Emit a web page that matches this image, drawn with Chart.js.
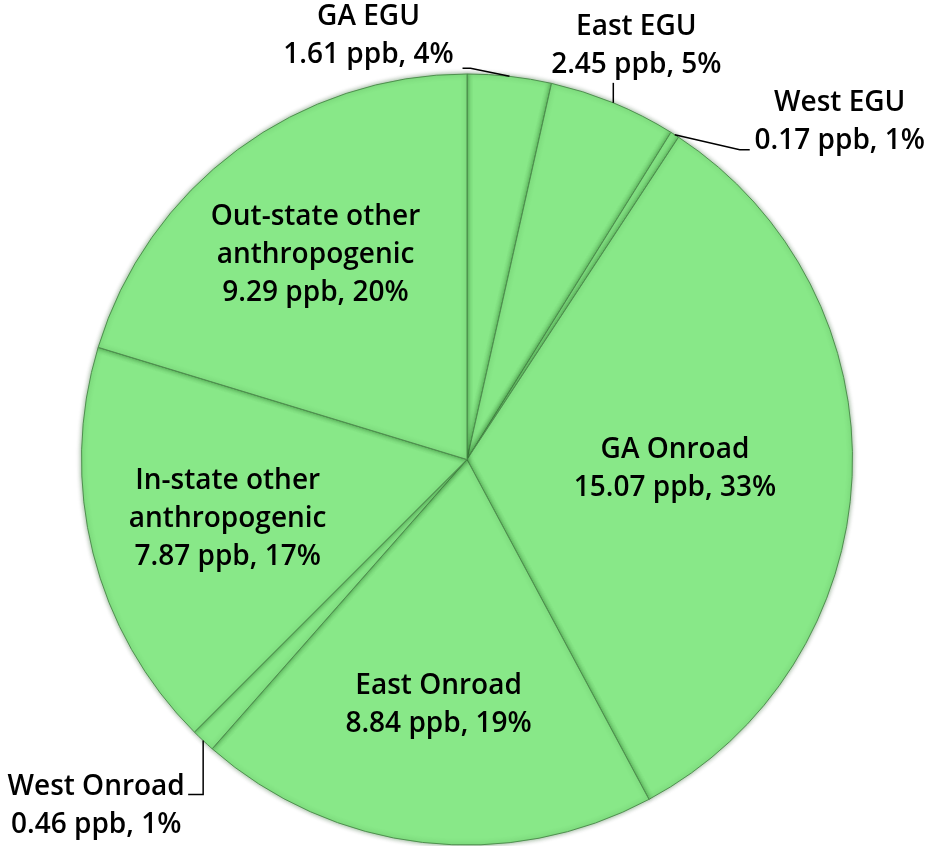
<!DOCTYPE html>
<html>
<head>
<meta charset="utf-8">
<script src="https://cdn.jsdelivr.net/npm/chart.js@4/dist/chart.umd.min.js"></script>
<style>
  html, body { margin: 0; padding: 0; background: #fff; }
  #wrap { width: 929px; height: 846px; }
</style>
</head>
<body>
<div id="wrap"><canvas id="grafico" width="929" height="846"></canvas></div>
<script>
// dados do grafico
const labels = ["GA EGU", "East EGU", "West EGU", "GA Onroad", "East Onroad", "West Onroad",
                "In-state other anthropogenic", "Out-state other anthropogenic"];
const valores = [1.61, 2.45, 0.17, 15.07, 8.84, 0.46, 7.87, 9.29];
const percentuais = [4, 5, 1, 33, 19, 1, 17, 20];
const titulos = [["GA EGU"], ["East EGU"], ["West EGU"], ["GA Onroad"], ["East Onroad"], ["West Onroad"],
                 ["In-state other", "anthropogenic"], ["Out-state other", "anthropogenic"]];

// onde cada rotulo fica (relativo a fatia)
const posicoes = [
  { fora: true, guia: [[-39, -8], [-47, -8]], dx: -141, dy: -59 },
  { fora: true, guia: [[0, -20]], dx: 23, dy: -76 },
  { fora: true, guia: [[65, 15], [75, 15]], dx: 165, dy: -32 },
  { fora: false, frac: 0.54 },
  { fora: false, frac: 0.64 },
  { fora: true, guia: [[0, 54], [-15, 54]], dx: -107, dy: 46 },
  { fora: false, frac: 0.64 },
  { fora: false, frac: 0.66 }
];

const fonte = "600 28px 'Open Sans', 'Noto Sans', sans-serif";
const alturaLinha = 38;

const rotulos = {
  id: "rotulos",
  beforeDatasetsDraw(chart) {
    // sombra leve para imitar o relevo das fatias
    const ctx = chart.ctx;
    ctx.save();
    ctx.shadowColor = "rgba(0, 70, 0, 0.45)";
    ctx.shadowBlur = 5;
  },
  afterDatasetsDraw(chart) {
    const ctx = chart.ctx;
    ctx.restore();
    const arcos = chart.getDatasetMeta(0).data;
    ctx.save();
    ctx.font = fonte;
    ctx.fillStyle = "#000";
    ctx.textAlign = "center";
    ctx.textBaseline = "middle";
    arcos.forEach((arco, i) => {
      const p = arco.getProps(["x", "y", "startAngle", "endAngle", "outerRadius"], true);
      const meio = (p.startAngle + p.endAngle) / 2;
      const texto = titulos[i].concat([valores[i].toFixed(2) + " ppb, " + percentuais[i] + "%"]);
      const pos = posicoes[i];
      let tx, ty;
      if (pos.fora) {
        const bx = p.x + p.outerRadius * Math.cos(meio);
        const by = p.y + p.outerRadius * Math.sin(meio);
        ctx.beginPath();
        ctx.strokeStyle = "#000";
        ctx.lineWidth = 1.5;
        ctx.moveTo(bx, by);
        pos.guia.forEach(g => ctx.lineTo(bx + g[0], by + g[1]));
        ctx.stroke();
        tx = bx + pos.dx;
        ty = by + pos.dy;
      } else {
        const r = p.outerRadius * pos.frac;
        tx = p.x + r * Math.cos(meio);
        ty = p.y + r * Math.sin(meio) - (texto.length - 1) * alturaLinha / 2;
      }
      texto.forEach((linha, k) => ctx.fillText(linha, tx, ty + k * alturaLinha));
    });
    ctx.restore();
  }
};

new Chart(document.getElementById("grafico"), {
  type: "pie",
  data: {
    labels: labels,
    datasets: [{
      data: valores,
      backgroundColor: "#88e888",
      borderColor: "#4f8f4f",
      borderWidth: 1
    }]
  },
  options: {
    responsive: false,
    animation: false,
    layout: { padding: { top: 73, bottom: 0, left: 81, right: 76 } },
    plugins: {
      legend: { display: false },
      tooltip: { enabled: false }
    }
  },
  plugins: [rotulos]
});
</script>
</body>
</html>
